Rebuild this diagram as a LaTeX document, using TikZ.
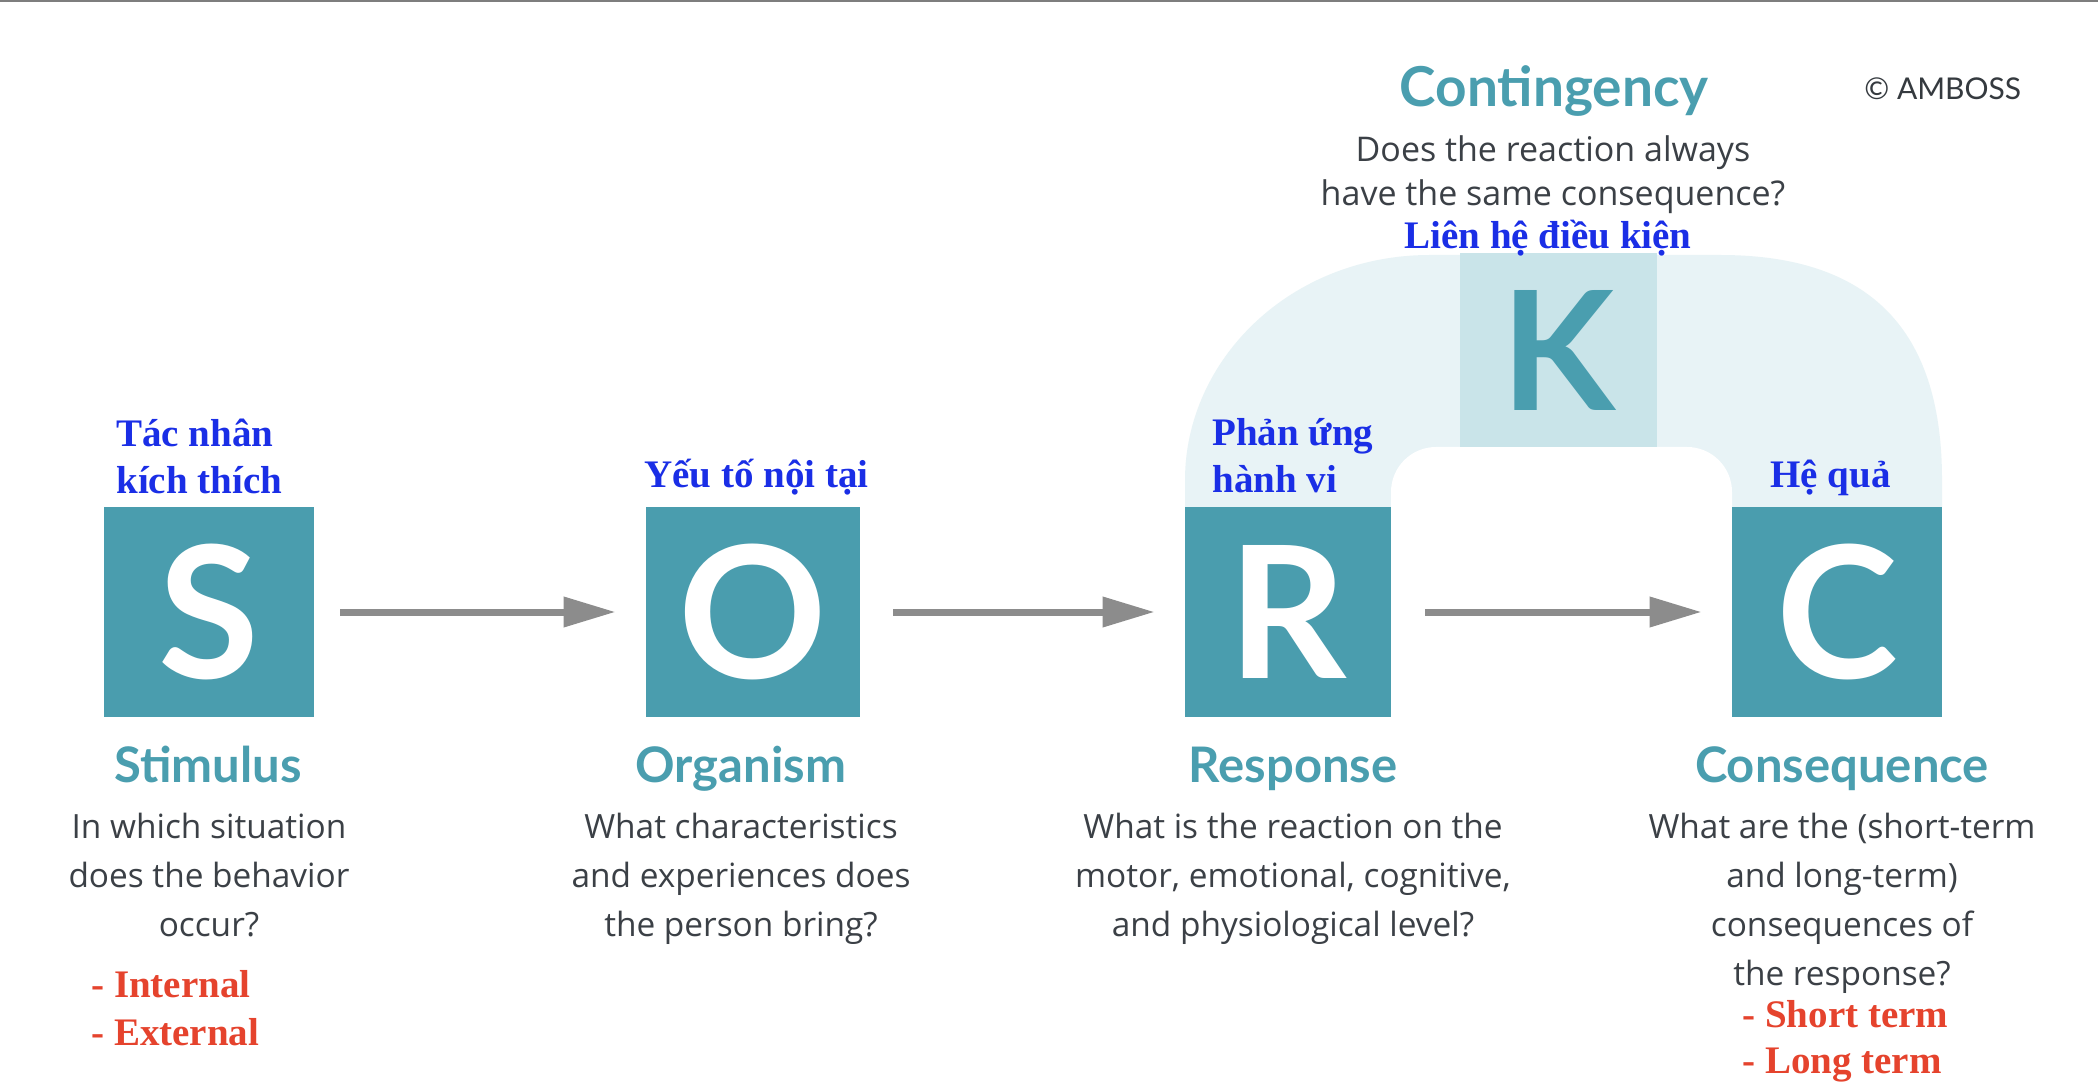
\documentclass[tikz,border=0pt]{standalone}
\usepackage{fontspec}
\setmainfont{Lato}
\newfontfamily\viet{Liberation Serif}
\newfontfamily\bodyfont{Open Sans}
\usetikzlibrary{arrows.meta}
\definecolor{teal1}{HTML}{4A9DAE}
\definecolor{tealtxt}{HTML}{4A9EAF}
\definecolor{archc}{HTML}{E8F3F6}
\definecolor{kfill}{HTML}{C9E4E9}
\definecolor{bodyc}{HTML}{3B4046}
\definecolor{arrc}{HTML}{8C8C8C}
\definecolor{vblue}{HTML}{1A2EE6}
\definecolor{vred}{HTML}{E5432D}
\begin{document}
\begin{tikzpicture}[x=0.5pt,y=-0.5pt,
  letterbox/.style={fill=teal1, text=white, inner sep=0pt, minimum height=105pt,
    font=\fontsize{92}{92}\selectfont\bfseries},
  arr/.style={draw=arrc, line width=3.5pt, -{Triangle[length=26pt,width=14.5pt]},
    shorten <=13pt, shorten >=15pt},
  heading/.style={anchor=base, text=tealtxt, inner sep=0pt,
    font=\fontsize{24.5}{26}\selectfont\bfseries},
  bodytxt/.style={anchor=base, text=bodyc, inner sep=0pt, align=center,
    font=\bodyfont\fontsize{16.7}{24.5}\selectfont},
  vlabel/.style={anchor=base west, text=vblue, inner sep=0pt, align=left,
    font=\viet\fontsize{19.5}{23.5}\selectfont\bfseries},
  rlabel/.style={anchor=base west, text=vred, inner sep=0pt, align=left,
    font=\viet\fontsize{19.5}{24}\selectfont\bfseries}
]
\useasboundingbox (0,0) rectangle (2098,1090);
\fill[white] (0,0) rectangle (2098,1090);
\draw[arrc!90!black, line width=1pt] (0,1) -- (2098,1);

% arch background
\fill[archc] (1185,507) -- (1185,480) .. controls (1185,360) and (1290,255) .. (1430,255)
  -- (1720,255) .. controls (1880,255) and (1942,340) .. (1942,480) -- (1942,507) -- cycle;
\fill[white, rounded corners=22.5pt] (1391,507) -- (1391,447) -- (1732,447) -- (1732,507);

% K box
\node[fill=kfill, text=tealtxt, inner sep=0pt, minimum width=98.5pt, minimum height=97pt,
  font=\fontsize{83}{83}\selectfont\bfseries] (K) at (1558.5,350) {K};

% letter boxes
\node[letterbox, minimum width=105pt] (S) at (209,612) {S};
\node[letterbox, minimum width=107pt] (O) at (753,612) {O};
\node[letterbox, minimum width=103pt] (R) at (1288,612) {R};
\node[letterbox, minimum width=105pt] (C) at (1837,612) {C};

\draw[arr] (S) -- (O);
\draw[arr, shorten <=16.5pt] (O) -- (R);
\draw[arr, shorten <=17pt] (R) -- (C);

% headings
\node[heading] (hS) at (208,782) {Stimulus};
\node[heading] (hO) at (741,782) {Organism};
\node[heading] (hR) at (1293,782) {Response};
\node[heading] (hC) at (1842,782) {Consequence};
\node[heading, font=\fontsize{27.5}{30}\selectfont\bfseries] (hK) at (1554,107) {Contingency};

% body texts (base anchor = last line)
\node[bodytxt] (bS) at (209,936) {In which situation\\does the behavior\\occur?};
\node[bodytxt] (bO) at (741,936) {What characteristics\\and experiences does\\the person bring?};
\node[bodytxt] (bR) at (1293,936) {What is the reaction on the\\motor, emotional, cognitive,\\and physiological level?};
\node[bodytxt] (bC) at (1842,985) {What are the (short-term\\and long-term)\\consequences of\\the response?};
\node[bodytxt, font=\bodyfont\fontsize{17}{22}\selectfont] (bK) at (1553,206) {Does the reaction always\\have the same consequence?};

\node[anchor=base west, text=bodyc!90!black, inner sep=0pt, font=\fontsize{15}{18}\selectfont] (amb) at (1864,100) {© AMBOSS};

% Vietnamese labels
\node[vlabel] (vS) at (116,494) {Tác nhân\\kích thích};
\node[vlabel] (vO) at (644,488) {Yếu tố nội tại};
\node[vlabel] (vR) at (1212,493) {Phản ứng\\hành vi};
\node[vlabel] (vC) at (1770,488) {Hệ quả};
\node[vlabel, anchor=base] (vK) at (1548,249) {Liên hệ điều kiện};

% red lists
\node[rlabel] (rS) at (91,1045) {- Internal\\- External};
\node[rlabel, font=\viet\fontsize{19.5}{23}\selectfont\bfseries] (rC) at (1742,1073) {- Short term\\- Long term};
\end{tikzpicture}
\end{document}
